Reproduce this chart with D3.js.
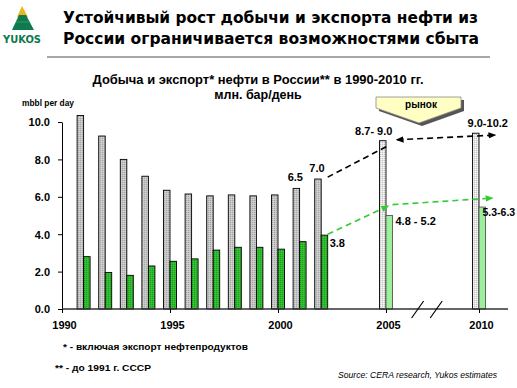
<!DOCTYPE html>
<html>
<head>
<meta charset="utf-8">
<script src="https://cdn.jsdelivr.net/npm/d3@7"></script>
<style>
  body { margin: 0; background: #fff; }
  text { font-family: "Liberation Sans", Arial, sans-serif; }
</style>
</head>
<body>
<script>
// data
var years = [1991, 1992, 1993, 1994, 1995, 1996, 1997, 1998, 1999, 2000, 2001, 2002];
var production = [10.35, 9.25, 8.0, 7.1, 6.35, 6.15, 6.05, 6.1, 6.05, 6.1, 6.45, 6.95];
var exportsData = [2.8, 1.95, 1.8, 2.3, 2.55, 2.68, 3.15, 3.3, 3.3, 3.2, 3.6, 3.95];
var forecastYears = [2005, 2010];
var forecastProduction = [9.0, 9.4];
var forecastExports = [5.0, 5.45];
var xTicks = [1990, 1995, 2000, 2005, 2010];
var yTicks = [0, 2, 4, 6, 8, 10];
var prodTrendA = [[2002.3, 7.05], [2005.05, 8.7]];
var prodTrendB = [[2005.6, 9.05], [2010.85, 9.3]];
var expTrendA = [[2002.3, 4.0], [2005.1, 5.5]];
var expTrendB = [[2005.35, 5.58], [2010.7, 5.93]];
var prodLabels = ["6.5", "7.0"];
var forecastProdLabels = ["8.7- 9.0", "9.0-10.2"];
var forecastExpLabels = ["4.8 - 5.2", "5.3-6.3"];
var lastExpLabel = "3.8";

var width = 517, height = 388;

var svg = d3.select("body").append("svg")
    .attr("width", width)
    .attr("height", height);

// scales (broken axis between 2005 and 2010)
var x = d3.scaleLinear().domain([1990, 2005, 2010]).range([62, 386, 479]);
var y = d3.scaleLinear().domain([0, 10]).range([309, 122]);
var barW = 6.5;

// patterns for the dotted bar fills
var defs = svg.append("defs");
let makePattern = (id, base, dot, light) => {
    let p = defs.append("pattern").attr("id", id)
        .attr("width", 2).attr("height", 2).attr("patternUnits", "userSpaceOnUse");
    p.append("rect").attr("width", 2).attr("height", 2).attr("fill", base);
    p.append("rect").attr("width", 1).attr("height", 1).attr("fill", dot);
    p.append("rect").attr("x", 1).attr("y", 1).attr("width", 1).attr("height", 1).attr("fill", light);
};
makePattern("grey", "#c6c6c6", "#a6a6a6", "#d2d2d2");
makePattern("greyLight", "#e6e6e6", "#c4c4c4", "#f6f6f6");
makePattern("green", "#2eb82e", "#22a022", "#38c838");

let makeMarker = (id, color) => {
    defs.append("marker").attr("id", id)
        .attr("viewBox", "0 0 10 10").attr("refX", 8).attr("refY", 5)
        .attr("markerWidth", 5).attr("markerHeight", 5)
        .attr("orient", "auto-start-reverse")
      .append("path").attr("d", "M0,1 L10,5 L0,9 Z").attr("fill", color);
};
makeMarker("arrBlack", "#000");
makeMarker("arrGreen", "#33cc33");

// logo
var logo = svg.append("g");
logo.append("polygon").attr("points", "22,6 28,17 17,17").attr("fill", "#e8b820");
logo.append("polygon").attr("points", "19,15 26,15 34,30 12,30").attr("fill", "#0e7a4e");
logo.append("line").attr("x1", 16).attr("y1", 22).attr("x2", 30).attr("y2", 22)
    .attr("stroke", "#3fa070").attr("stroke-width", 0.8);
logo.append("text").attr("x", 22).attr("y", 43).attr("text-anchor", "middle")
    .style("font-family", "DejaVu Sans").style("font-weight", "bold")
    .style("font-size", "10.5px").attr("fill", "#0e7a4e")
    .attr("textLength", 38).attr("lengthAdjust", "spacingAndGlyphs").text("YUKOS");

// header
var titleLines = ["Устойчивый рост добычи и экспорта нефти из", "России ограничивается возможностями сбыта"];
svg.selectAll(".title").data(titleLines).enter().append("text")
    .attr("class", "title")
    .attr("x", 63).attr("y", (d, i) => 23 + i * 21)
    .style("font-family", "DejaVu Sans").style("font-weight", "bold").style("font-size", "16px")
    .attr("textLength", (d, i) => i === 0 ? 415 : 416).attr("lengthAdjust", "spacingAndGlyphs")
    .text(d => d);
svg.append("line").attr("x1", 47).attr("x2", 490).attr("y1", 57).attr("y2", 57)
    .attr("stroke", "#8a8a8a").attr("stroke-width", 1.5);

// chart title
svg.append("text").attr("x", 258).attr("y", 84).attr("text-anchor", "middle")
    .style("font-weight", "bold").style("font-size", "12.5px")
    .attr("textLength", 331).attr("lengthAdjust", "spacingAndGlyphs")
    .text("Добыча и экспорт* нефти в России** в 1990-2010 гг.");
svg.append("text").attr("x", 258).attr("y", 99).attr("text-anchor", "middle")
    .style("font-weight", "bold").style("font-size", "12.5px")
    .text("млн. бар/день");

svg.append("text").attr("x", 22).attr("y", 106)
    .style("font-weight", "bold").style("font-size", "8.5px")
    .attr("textLength", 52).attr("lengthAdjust", "spacingAndGlyphs")
    .text("mbbl per day");

// Y axis
var yAxis = svg.append("g")
    .attr("transform", "translate(" + x(1990) + ",0)")
    .call(d3.axisLeft(y).tickValues(yTicks).tickSize(4).tickSizeOuter(0).tickFormat(d3.format(".1f")));
yAxis.select(".domain").attr("stroke", "#000");
yAxis.selectAll("text").style("font-weight", "bold").style("font-size", "11px")
    .attr("fill", "#000").attr("x", -12).attr("dy", "0.35em");

// historical bars
var bars = svg.append("g");
bars.selectAll(".prod").data(years).enter().append("rect")
    .attr("x", d => x(d) - barW).attr("width", barW)
    .attr("y", (d, i) => y(production[i])).attr("height", (d, i) => y(0) - y(production[i]))
    .attr("fill", "url(#grey)").attr("stroke", "#000").attr("stroke-width", 0.9);
bars.selectAll(".exp").data(years).enter().append("rect")
    .attr("x", d => x(d)).attr("width", barW)
    .attr("y", (d, i) => y(exportsData[i])).attr("height", (d, i) => y(0) - y(exportsData[i]))
    .attr("fill", "url(#green)").attr("stroke", "#000").attr("stroke-width", 0.9);

// forecast bars
bars.selectAll(".fprod").data(forecastYears).enter().append("rect")
    .attr("x", d => x(d) - barW).attr("width", barW)
    .attr("y", (d, i) => y(forecastProduction[i])).attr("height", (d, i) => y(0) - y(forecastProduction[i]))
    .attr("fill", "url(#greyLight)").attr("stroke", "#000").attr("stroke-width", 0.9);
bars.selectAll(".fexp").data(forecastYears).enter().append("rect")
    .attr("x", d => x(d)).attr("width", barW)
    .attr("y", (d, i) => y(forecastExports[i])).attr("height", (d, i) => y(0) - y(forecastExports[i]))
    .attr("fill", "#9cf09c").attr("stroke", "#555").attr("stroke-width", 0.9);

// X axis
var xAxis = svg.append("g")
    .attr("transform", "translate(0," + y(0) + ")")
    .call(d3.axisBottom(x).tickValues(xTicks).tickSize(4).tickSizeOuter(0).tickFormat(d3.format("d")));
xAxis.select(".domain").attr("d", "M" + x(1990) + ",0H508").attr("stroke", "#333").attr("stroke-width", 1.6);
xAxis.selectAll("text").style("font-weight", "bold").style("font-size", "11px")
    .attr("fill", "#000").attr("y", 12).attr("dx", 2);

// axis break marks
var breaks = [2006.7, 2007.7];
svg.selectAll(".brk").data(breaks).enter().append("line")
    .attr("x1", d => x(d) - 6).attr("y1", y(0) + 9)
    .attr("x2", d => x(d) + 6).attr("y2", y(0) - 8)
    .attr("stroke", "#000").attr("stroke-width", 1.2);

// trend lines
var line = d3.line().x(d => x(d[0])).y(d => y(d[1]));
svg.append("path").datum(prodTrendA).attr("d", line)
    .attr("fill", "none").attr("stroke", "#000").attr("stroke-width", 1.6).attr("stroke-dasharray", "6,4");
svg.append("path").datum(prodTrendB).attr("d", line)
    .attr("fill", "none").attr("stroke", "#000").attr("stroke-width", 1.6).attr("stroke-dasharray", "6,4")
    .attr("marker-start", "url(#arrBlack)").attr("marker-end", "url(#arrBlack)");
svg.append("path").datum(expTrendA).attr("d", line)
    .attr("fill", "none").attr("stroke", "#33cc33").attr("stroke-width", 1.6).attr("stroke-dasharray", "6,4")
    .attr("marker-end", "url(#arrGreen)");
svg.append("path").datum(expTrendB).attr("d", line)
    .attr("fill", "none").attr("stroke", "#33cc33").attr("stroke-width", 1.6).attr("stroke-dasharray", "6,4")
    .attr("marker-end", "url(#arrGreen)");

// value labels
var lbl = svg.append("g").style("font-weight", "bold").style("font-size", "11px");
prodLabels.forEach((t, k) => {
    let i = years.length - prodLabels.length + k;
    lbl.append("text").attr("x", x(years[i]) - barW / 2 - 1).attr("y", y(production[i]) - 7)
        .attr("text-anchor", "middle").text(t);
});
lbl.append("text").attr("x", x(years[years.length - 1]) + barW + 2)
    .attr("y", y(exportsData[exportsData.length - 1]) + 12).text(lastExpLabel);
var fpOffsets = [-9, 12];
forecastProdLabels.forEach((t, i) => {
    lbl.append("text").attr("x", x(forecastYears[i]) - barW / 2 + fpOffsets[i])
        .attr("y", y(forecastProduction[i]) - 6).attr("text-anchor", "middle").text(t);
});
var feOffsets = [3, -3];
forecastExpLabels.forEach((t, i) => {
    lbl.append("text").attr("x", x(forecastYears[i]) + barW + feOffsets[i])
        .attr("y", y(forecastExports[i]) + 9)
        .style("font-size", i === 1 ? "10.5px" : "11px").text(t);
});

// "рынок" callout
var call = svg.append("g");
var shape = "376,97 461,97 461,108 419,123 376,108";
call.append("polygon").attr("points", shape).attr("transform", "translate(3,3)").attr("fill", "#555");
call.append("polygon").attr("points", shape).attr("fill", "#ffffc4").attr("stroke", "#888").attr("stroke-width", 0.8);
call.append("text").attr("x", 421).attr("y", 107.5).attr("text-anchor", "middle")
    .style("font-weight", "bold").style("font-size", "10px").text("рынок");

// footnotes
svg.append("text").attr("x", 63).attr("y", 350).style("font-weight", "bold").style("font-size", "8.5px")
    .attr("textLength", 185).attr("lengthAdjust", "spacingAndGlyphs")
    .text("* - включая экспорт нефтепродуктов");
svg.append("text").attr("x", 55).attr("y", 371).style("font-weight", "bold").style("font-size", "8.5px")
    .attr("textLength", 96).attr("lengthAdjust", "spacingAndGlyphs")
    .text("** - до 1991 г. СССР");
svg.append("text").attr("x", 338).attr("y", 378).style("font-style", "italic").style("font-size", "8.5px")
    .attr("textLength", 159).attr("lengthAdjust", "spacingAndGlyphs")
    .text("Source: CERA research, Yukos estimates");
</script>
</body>
</html>
